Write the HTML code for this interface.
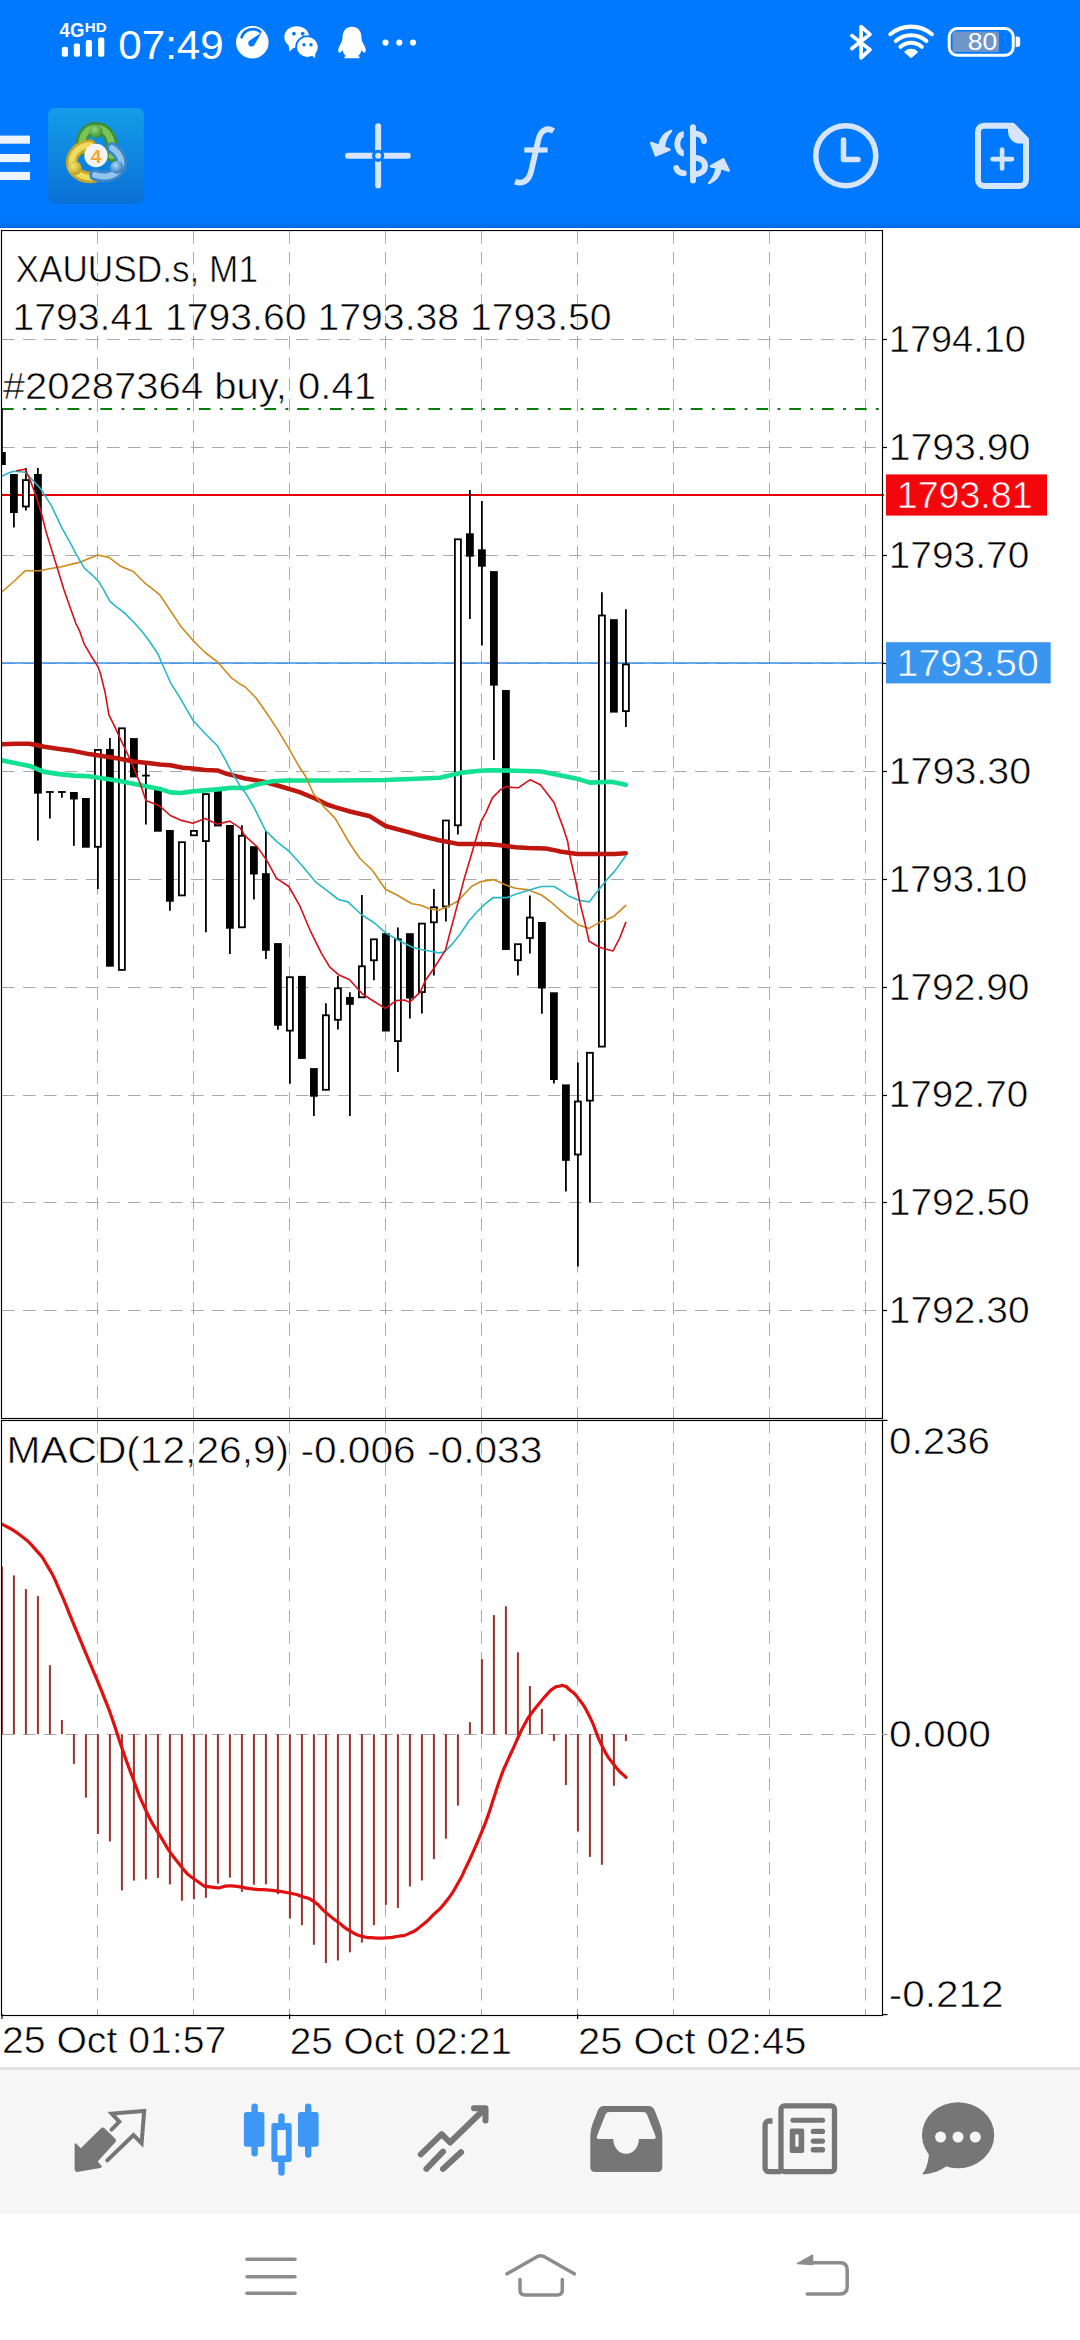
<!DOCTYPE html>
<html><head><meta charset="utf-8"><title>XAUUSD.s, M1</title>
<style>
html,body{margin:0;padding:0;background:#fff;}
body{width:1080px;height:2340px;position:relative;overflow:hidden;font-family:'Liberation Sans',Arial,sans-serif;}
svg text{white-space:pre;}
</style></head><body>
<div style="position:absolute;left:0;top:0;width:1080px;height:228px;background:#0179fe"></div>
<div style="position:absolute;left:0;top:222px;width:1080px;height:6px;background:linear-gradient(#0179fe,#0067dc)"></div>
<svg width="1080" height="228" style="position:absolute;left:0;top:0"><text x="59.62" y="36.7" font-family="'Liberation Sans', Arial, sans-serif" font-weight="bold" font-size="20" fill="#fff" textLength="24.73" lengthAdjust="spacingAndGlyphs">4G</text><text x="84.79" y="31.9" font-family="'Liberation Sans', Arial, sans-serif" font-weight="bold" font-size="13.6" fill="#fff" textLength="21.74" lengthAdjust="spacingAndGlyphs">HD</text><rect x="61.8" y="46.8" width="6.2" height="10" rx="2" fill="#fff"/><rect x="73.8" y="43.5" width="6.2" height="13.3" rx="2" fill="#fff"/><rect x="85.8" y="40" width="6.2" height="16.8" rx="2" fill="#fff"/><rect x="98.1" y="37.4" width="6.2" height="19.4" rx="2" fill="#fff"/><text x="118.36" y="58.9" font-family="'Liberation Sans', Arial, sans-serif" font-size="41" fill="#fff" textLength="105.34" lengthAdjust="spacingAndGlyphs">07:49</text><circle cx="252.3" cy="42.2" r="16.3" fill="#fff"/><path d="M241.6 37.2 A12 12 0 0 1 260.2 31.6" fill="none" stroke="#0179fe" stroke-width="2.8" stroke-linecap="round"/><path d="M249.6 40.6 L261.6 32.6 L254.2 45.2 A3.3 3.3 0 1 1 249.6 40.6 Z" fill="#0179fe"/><ellipse cx="296.7" cy="37" rx="12.4" ry="10.8" fill="#fff"/><path d="M288.5 44 L289.5 51.5 L295 46.5 Z" fill="#fff"/><circle cx="293.9" cy="33.7" r="1.9" fill="#0179fe"/><circle cx="302.7" cy="33.7" r="1.9" fill="#0179fe"/><ellipse cx="307.4" cy="47" rx="12.2" ry="11.8" fill="#0179fe"/><ellipse cx="307.4" cy="47" rx="10.4" ry="10" fill="#fff"/><path d="M311 55 L315 58 L315.5 52 Z" fill="#fff"/><circle cx="304" cy="44.8" r="1.7" fill="#0179fe"/><circle cx="311" cy="44.8" r="1.7" fill="#0179fe"/><path d="M352 26.7 C345 26.7 342.5 32 342.5 38 C342.5 41 341 43 339.5 46 C337.5 50 338 53 340 52.5 C341 52 341.8 51 342.5 50 C343 53 344.5 55 346 56 C343.5 57 343.5 58.3 346 58.3 L358 58.3 C360.5 58.3 360.5 57 358 56 C359.5 55 361 53 361.5 50 C362.2 51 363 52 364 52.5 C366 53 366.5 50 364.5 46 C363 43 361.5 41 361.5 38 C361.5 32 359 26.7 352 26.7 Z" fill="#fff"/><circle cx="385.5" cy="42.6" r="3.1" fill="#fff"/><circle cx="399.3" cy="42.6" r="3.1" fill="#fff"/><circle cx="413" cy="42.6" r="3.1" fill="#fff"/><path d="M851.9 35.6 L870 49.6 L861.1 57.8 L861.1 26.7 L870 34.4 L851.9 48.5" fill="none" stroke="#fff" stroke-width="3.7" stroke-linejoin="round" stroke-linecap="round"/><g fill="none" stroke="#fff" stroke-width="4.1" stroke-linecap="round"><path d="M890.3 34.2 A32.2 32.2 0 0 1 931.9 34.2"/><path d="M895.8 41 A23.4 23.4 0 0 1 926.4 41"/><path d="M900.5 46.8 A15.8 15.8 0 0 1 921.7 46.8"/></g><path d="M911.1 57 L905.4 51.9 A8.6 8.6 0 0 1 916.8 51.9 Z" fill="#fff" stroke="#fff" stroke-width="2" stroke-linejoin="round"/><rect x="949.2" y="28.6" width="64" height="26.6" rx="8" fill="none" stroke="#fff" stroke-width="3"/><rect x="952.5" y="31.5" width="46.5" height="20.5" rx="1" fill="#6f96c9"/><path d="M1015.7 36.4 L1017 36.4 A3 3 0 0 1 1020.2 39.4 L1020.2 44.1 A3 3 0 0 1 1017 47.1 L1015.7 47.1 Z" fill="#fff"/><text x="967.7" y="50" font-family="'Liberation Sans', Arial, sans-serif" font-size="23" fill="#fff" textLength="29.5" lengthAdjust="spacingAndGlyphs">80</text><rect x="0" y="135.6" width="30" height="8.1" fill="#eef4fe"/><rect x="0" y="154" width="30" height="8.1" fill="#eef4fe"/><rect x="0" y="171.9" width="30" height="8.1" fill="#eef4fe"/><defs><linearGradient id="lg" x1="0" y1="0" x2="0" y2="1"><stop offset="0" stop-color="#149de9"/><stop offset="1" stop-color="#0a70d6"/></linearGradient><radialGradient id="hg" cx="0.4" cy="0.35" r="0.7"><stop offset="0" stop-color="#9ad77a"/><stop offset="1" stop-color="#2f8a30"/></radialGradient><radialGradient id="hy" cx="0.4" cy="0.35" r="0.7"><stop offset="0" stop-color="#f4e678"/><stop offset="1" stop-color="#b99a1c"/></radialGradient><radialGradient id="hb" cx="0.4" cy="0.35" r="0.7"><stop offset="0" stop-color="#a8d8f6"/><stop offset="1" stop-color="#2a74b8"/></radialGradient></defs><rect x="48.1" y="108.1" width="95.8" height="95.8" rx="7" fill="url(#lg)"/><g fill="none" stroke-linecap="round"><path d="M83 150 C79 138 86 128 96 128 C106 128 114 137 112 156" stroke="#3c8f36" stroke-width="12"/><path d="M83 150 C79 138 86 128 96 128 C106 128 114 137 112 156" stroke="#7cc35a" stroke-width="6.5"/><path d="M90 145 C78 146 70 155 72 166 C75 175 86 179 95 177" stroke="#c6a72a" stroke-width="11.5"/><path d="M90 145 C78 146 70 155 72 166 C75 175 86 179 95 177" stroke="#eedc60" stroke-width="6"/><path d="M112 148 C121 154 124 163 119 170 C113 177 103 178 95 175" stroke="#3a86c8" stroke-width="11.5"/><path d="M112 148 C121 154 124 163 119 170 C113 177 103 178 95 175" stroke="#90c6ee" stroke-width="6"/></g><circle cx="96" cy="131.6" r="6.6" fill="url(#hg)"/><circle cx="74.6" cy="168.2" r="7" fill="url(#hy)"/><circle cx="116.9" cy="167.2" r="6.5" fill="url(#hb)"/><circle cx="96" cy="155.5" r="11.7" fill="#f3f3f3"/><text x="96" y="162.5" text-anchor="middle" font-family="'Liberation Sans', Arial, sans-serif" font-weight="bold" font-size="19" fill="#f2a634">4</text><g stroke="#d6e5fb" stroke-width="6" stroke-linecap="round" fill="none"><line x1="348" y1="155.8" x2="407.8" y2="155.8"/><line x1="378.1" y1="126.2" x2="378.1" y2="185.4"/></g><circle cx="378.1" cy="155.8" r="6.1" fill="#0179fe"/><circle cx="378.1" cy="155.8" r="3" fill="#d6e5fb"/><path d="M553.5 131 C547 127 540.5 130 538.3 140 L531.3 170.5 C529 180.5 523.5 184.5 515 181.8" fill="none" stroke="#d6e5fb" stroke-width="5.8"/><line x1="524.3" y1="150" x2="547.6" y2="150" stroke="#d6e5fb" stroke-width="5.2"/><line x1="693" y1="127.3" x2="693" y2="180.4" stroke="#d6e5fb" stroke-width="6" stroke-linecap="round"/><g fill="none" stroke="#d6e5fb" stroke-width="6"><path d="M683.8 134.3 A6.5 9.5 0 0 0 683.8 153.3"/><path d="M693 133.6 C699 133.6 704 136 704 141" stroke-linecap="round"/><path d="M693 157.8 C701 157.8 705 161.5 705 166 C705 170.5 701 174.3 693 174.3"/><path d="M676.3 168 C677.5 171.5 680 173.3 683.8 173.3" stroke-linecap="round"/></g><path d="M671 131 C664 134 660 139 659.5 146 L651.3 143 L655.8 155.3 L669.6 149.7 L663.8 147.5 C664.5 140 667 135 671 131 Z" fill="#d6e5fb" stroke="#d6e5fb" stroke-width="2.5" stroke-linejoin="round"/><path d="M709.2 183 C716 180 720 175 720.5 168 L728.7 170.5 L723.3 159.3 L710.8 166.3 L716.6 167.6 C716 174 713 179 709.2 183 Z" fill="#d6e5fb" stroke="#d6e5fb" stroke-width="2.5" stroke-linejoin="round"/><circle cx="845.8" cy="155.7" r="30" fill="none" stroke="#d6e5fb" stroke-width="5.5"/><path d="M843.5 140 L843.5 159.5 L858 159.5" fill="none" stroke="#d6e5fb" stroke-width="5.5" stroke-linecap="round" stroke-linejoin="round"/><path d="M984 125.7 L1012.5 125.7 L1026 139.5 L1026 180 A6 6 0 0 1 1020 186 L984 186 A6 6 0 0 1 978 180 L978 131.7 A6 6 0 0 1 984 125.7 Z" fill="none" stroke="#d6e5fb" stroke-width="6" stroke-linejoin="round"/><path d="M1008 125 L1015 125 L1029 139 L1029 143.6 L1020 143.6 C1013 143.6 1008 138 1008 131 Z" fill="#d6e5fb"/><g stroke="#d6e5fb" stroke-width="4.6" stroke-linecap="round"><line x1="992.5" y1="159.1" x2="1012" y2="159.1"/><line x1="1002.1" y1="149.5" x2="1002.1" y2="168.5"/></g></svg>
<svg width="1080" height="1850" viewBox="0 230 1080 1850" style="position:absolute;left:0;top:230px">
<rect x="0" y="230" width="1080" height="1850" fill="#fff"/>
<defs><clipPath id="cm"><rect x="2" y="231" width="880" height="1187"/></clipPath><clipPath id="cd"><rect x="2" y="1421" width="880" height="594"/></clipPath></defs>
<g stroke="#aaaaaa" stroke-width="1" stroke-dasharray="12.6 8.4"><line x1="97.5" y1="231" x2="97.5" y2="1418" /><line x1="97.5" y1="1421" x2="97.5" y2="2015" /><line x1="193.5" y1="231" x2="193.5" y2="1418" /><line x1="193.5" y1="1421" x2="193.5" y2="2015" /><line x1="289.5" y1="231" x2="289.5" y2="1418" /><line x1="289.5" y1="1421" x2="289.5" y2="2015" /><line x1="385.5" y1="231" x2="385.5" y2="1418" /><line x1="385.5" y1="1421" x2="385.5" y2="2015" /><line x1="481.5" y1="231" x2="481.5" y2="1418" /><line x1="481.5" y1="1421" x2="481.5" y2="2015" /><line x1="577.5" y1="231" x2="577.5" y2="1418" /><line x1="577.5" y1="1421" x2="577.5" y2="2015" /><line x1="673.5" y1="231" x2="673.5" y2="1418" /><line x1="673.5" y1="1421" x2="673.5" y2="2015" /><line x1="769.5" y1="231" x2="769.5" y2="1418" /><line x1="769.5" y1="1421" x2="769.5" y2="2015" /><line x1="865.5" y1="231" x2="865.5" y2="1418" /><line x1="865.5" y1="1421" x2="865.5" y2="2015" /><line x1="2" y1="339.5" x2="882" y2="339.5" /><line x1="2" y1="447.5" x2="882" y2="447.5" /><line x1="2" y1="555.5" x2="882" y2="555.5" /><line x1="2" y1="663.5" x2="882" y2="663.5" /><line x1="2" y1="771.5" x2="882" y2="771.5" /><line x1="2" y1="879.5" x2="882" y2="879.5" /><line x1="2" y1="987.5" x2="882" y2="987.5" /><line x1="2" y1="1095.5" x2="882" y2="1095.5" /><line x1="2" y1="1202.5" x2="882" y2="1202.5" /><line x1="2" y1="1310.5" x2="882" y2="1310.5" /><line x1="2" y1="1734.5" x2="882" y2="1734.5" /></g>
<line x1="2" y1="409" x2="882" y2="409" stroke="#0a7a0a" stroke-width="2" stroke-dasharray="11.7 9.4 2.8 8.9"/>
<line x1="2" y1="495" x2="884" y2="495" stroke="#e40000" stroke-width="1.8"/>
<line x1="2" y1="663" x2="884" y2="663" stroke="#3a8ee6" stroke-width="1.6"/>
<g clip-path="url(#cm)">
<line x1="1.9" y1="409" x2="1.9" y2="453" stroke="#000" stroke-width="1.8"/><rect x="-2" y="452" width="7.8" height="13" fill="#000"/><line x1="13.9" y1="512" x2="13.9" y2="527.6" stroke="#000" stroke-width="1.8"/><rect x="10" y="474" width="7.8" height="39" fill="#000"/><line x1="25.9" y1="468" x2="25.9" y2="480.2" stroke="#000" stroke-width="1.8"/><line x1="25.9" y1="506.4" x2="25.9" y2="510.5" stroke="#000" stroke-width="1.8"/><rect x="22.9" y="480.1" width="6" height="26.4" fill="#fff" stroke="#000" stroke-width="1.8"/><line x1="37.9" y1="468" x2="37.9" y2="475" stroke="#000" stroke-width="1.8"/><line x1="37.9" y1="792.6" x2="37.9" y2="840.6" stroke="#000" stroke-width="1.8"/><rect x="34" y="474" width="7.8" height="319.6" fill="#000"/><line x1="49.9" y1="791" x2="49.9" y2="818.6" stroke="#000" stroke-width="1.8"/><line x1="46" y1="792" x2="53.8" y2="792" stroke="#000" stroke-width="1.8"/><line x1="61.9" y1="791" x2="61.9" y2="797.7" stroke="#000" stroke-width="1.8"/><line x1="58" y1="792" x2="65.8" y2="792" stroke="#000" stroke-width="1.8"/><line x1="73.9" y1="798.5" x2="73.9" y2="845.8" stroke="#000" stroke-width="1.8"/><rect x="70" y="792" width="7.8" height="7.5" fill="#000"/><rect x="82" y="798" width="7.8" height="49.7" fill="#000"/><line x1="97.9" y1="846.7" x2="97.9" y2="889" stroke="#000" stroke-width="1.8"/><rect x="94.9" y="749.9" width="6" height="96.9" fill="#fff" stroke="#000" stroke-width="1.8"/><line x1="109.9" y1="738" x2="109.9" y2="750" stroke="#000" stroke-width="1.8"/><rect x="106" y="749" width="7.8" height="217.7" fill="#000"/><rect x="118.9" y="728.3" width="6" height="241.6" fill="#fff" stroke="#000" stroke-width="1.8"/><rect x="130" y="738.1" width="7.8" height="39.3" fill="#000"/><line x1="145.9" y1="764.5" x2="145.9" y2="776.6" stroke="#000" stroke-width="1.8"/><line x1="145.9" y1="774.6" x2="145.9" y2="824.6" stroke="#000" stroke-width="1.8"/><line x1="142" y1="775.6" x2="149.8" y2="775.6" stroke="#000" stroke-width="1.8"/><rect x="154" y="787" width="7.8" height="44.7" fill="#000"/><line x1="169.9" y1="900.7" x2="169.9" y2="910.7" stroke="#000" stroke-width="1.8"/><rect x="166" y="830" width="7.8" height="71.7" fill="#000"/><rect x="178.9" y="842.2" width="6" height="53.2" fill="#fff" stroke="#000" stroke-width="1.8"/><rect x="190.9" y="830.9" width="6" height="4.4" fill="#fff" stroke="#000" stroke-width="1.8"/><line x1="205.9" y1="841" x2="205.9" y2="932.2" stroke="#000" stroke-width="1.8"/><rect x="202.9" y="794.1" width="6" height="47" fill="#fff" stroke="#000" stroke-width="1.8"/><rect x="214" y="787.8" width="7.8" height="38.6" fill="#000"/><line x1="229.9" y1="927.7" x2="229.9" y2="953.9" stroke="#000" stroke-width="1.8"/><rect x="226" y="825" width="7.8" height="103.7" fill="#000"/><line x1="241.9" y1="825.2" x2="241.9" y2="835.9" stroke="#000" stroke-width="1.8"/><rect x="238.9" y="835.8" width="6" height="91.5" fill="#fff" stroke="#000" stroke-width="1.8"/><line x1="253.9" y1="873.5" x2="253.9" y2="899.5" stroke="#000" stroke-width="1.8"/><rect x="250" y="846.2" width="7.8" height="28.3" fill="#000"/><line x1="265.9" y1="830.8" x2="265.9" y2="874.2" stroke="#000" stroke-width="1.8"/><line x1="265.9" y1="949.8" x2="265.9" y2="959" stroke="#000" stroke-width="1.8"/><rect x="262" y="873.2" width="7.8" height="77.6" fill="#000"/><line x1="277.9" y1="1024.7" x2="277.9" y2="1029.8" stroke="#000" stroke-width="1.8"/><rect x="274" y="943.1" width="7.8" height="82.6" fill="#000"/><line x1="289.9" y1="1030.5" x2="289.9" y2="1083.7" stroke="#000" stroke-width="1.8"/><rect x="286.9" y="977.2" width="6" height="53.4" fill="#fff" stroke="#000" stroke-width="1.8"/><rect x="298" y="975.9" width="7.8" height="83" fill="#000"/><line x1="313.9" y1="1095.7" x2="313.9" y2="1115.9" stroke="#000" stroke-width="1.8"/><rect x="310" y="1068.1" width="7.8" height="28.6" fill="#000"/><line x1="325.9" y1="1003.2" x2="325.9" y2="1015.4" stroke="#000" stroke-width="1.8"/><rect x="322.9" y="1015.3" width="6" height="74.5" fill="#fff" stroke="#000" stroke-width="1.8"/><line x1="337.9" y1="976.1" x2="337.9" y2="988.4" stroke="#000" stroke-width="1.8"/><line x1="337.9" y1="1019.7" x2="337.9" y2="1029.6" stroke="#000" stroke-width="1.8"/><rect x="334.9" y="988.3" width="6" height="31.5" fill="#fff" stroke="#000" stroke-width="1.8"/><line x1="349.9" y1="992.2" x2="349.9" y2="998" stroke="#000" stroke-width="1.8"/><line x1="349.9" y1="1003.8" x2="349.9" y2="1115.9" stroke="#000" stroke-width="1.8"/><rect x="346" y="997" width="7.8" height="7.8" fill="#000"/><line x1="361.9" y1="895" x2="361.9" y2="966.4" stroke="#000" stroke-width="1.8"/><rect x="358.9" y="966.3" width="6" height="31" fill="#fff" stroke="#000" stroke-width="1.8"/><line x1="373.9" y1="960.2" x2="373.9" y2="980.3" stroke="#000" stroke-width="1.8"/><rect x="370.9" y="939.3" width="6" height="21" fill="#fff" stroke="#000" stroke-width="1.8"/><rect x="382" y="933.2" width="7.8" height="98.3" fill="#000"/><line x1="397.9" y1="927.6" x2="397.9" y2="939.4" stroke="#000" stroke-width="1.8"/><line x1="397.9" y1="1041" x2="397.9" y2="1072" stroke="#000" stroke-width="1.8"/><rect x="394.9" y="939.3" width="6" height="101.8" fill="#fff" stroke="#000" stroke-width="1.8"/><line x1="409.9" y1="997.5" x2="409.9" y2="1018.5" stroke="#000" stroke-width="1.8"/><rect x="406" y="933.2" width="7.8" height="65.3" fill="#000"/><line x1="421.9" y1="992" x2="421.9" y2="1013.6" stroke="#000" stroke-width="1.8"/><rect x="418.9" y="923.6" width="6" height="68.5" fill="#fff" stroke="#000" stroke-width="1.8"/><line x1="433.9" y1="889" x2="433.9" y2="907.4" stroke="#000" stroke-width="1.8"/><line x1="433.9" y1="922.2" x2="433.9" y2="975.5" stroke="#000" stroke-width="1.8"/><rect x="430.9" y="907.3" width="6" height="15" fill="#fff" stroke="#000" stroke-width="1.8"/><line x1="445.9" y1="906.4" x2="445.9" y2="921.5" stroke="#000" stroke-width="1.8"/><rect x="442.9" y="820.5" width="6" height="86" fill="#fff" stroke="#000" stroke-width="1.8"/><line x1="457.9" y1="825.2" x2="457.9" y2="834.4" stroke="#000" stroke-width="1.8"/><rect x="454.9" y="539.3" width="6" height="286" fill="#fff" stroke="#000" stroke-width="1.8"/><line x1="469.9" y1="490" x2="469.9" y2="534.3" stroke="#000" stroke-width="1.8"/><line x1="469.9" y1="555.7" x2="469.9" y2="618.9" stroke="#000" stroke-width="1.8"/><rect x="466" y="533.3" width="7.8" height="23.4" fill="#000"/><line x1="481.9" y1="501.1" x2="481.9" y2="550.3" stroke="#000" stroke-width="1.8"/><line x1="481.9" y1="565.7" x2="481.9" y2="645.6" stroke="#000" stroke-width="1.8"/><rect x="478" y="549.3" width="7.8" height="17.4" fill="#000"/><line x1="493.9" y1="684.6" x2="493.9" y2="760" stroke="#000" stroke-width="1.8"/><rect x="490" y="571.1" width="7.8" height="114.5" fill="#000"/><rect x="502" y="690" width="7.8" height="260" fill="#000"/><line x1="517.9" y1="960.1" x2="517.9" y2="975.6" stroke="#000" stroke-width="1.8"/><rect x="514.9" y="944.2" width="6" height="16" fill="#fff" stroke="#000" stroke-width="1.8"/><line x1="529.9" y1="895.6" x2="529.9" y2="917.7" stroke="#000" stroke-width="1.8"/><line x1="529.9" y1="937.9" x2="529.9" y2="953.5" stroke="#000" stroke-width="1.8"/><rect x="526.9" y="917.6" width="6" height="20.4" fill="#fff" stroke="#000" stroke-width="1.8"/><line x1="541.9" y1="987.5" x2="541.9" y2="1013.7" stroke="#000" stroke-width="1.8"/><rect x="538" y="922" width="7.8" height="66.5" fill="#000"/><line x1="553.9" y1="1079" x2="553.9" y2="1083.6" stroke="#000" stroke-width="1.8"/><rect x="550" y="992.3" width="7.8" height="87.7" fill="#000"/><line x1="565.9" y1="1159.8" x2="565.9" y2="1191.6" stroke="#000" stroke-width="1.8"/><rect x="562" y="1084.4" width="7.8" height="76.4" fill="#000"/><line x1="577.9" y1="1062.5" x2="577.9" y2="1101.6" stroke="#000" stroke-width="1.8"/><line x1="577.9" y1="1154.4" x2="577.9" y2="1266.4" stroke="#000" stroke-width="1.8"/><rect x="574.9" y="1101.5" width="6" height="53" fill="#fff" stroke="#000" stroke-width="1.8"/><line x1="589.9" y1="1100.5" x2="589.9" y2="1202.5" stroke="#000" stroke-width="1.8"/><rect x="586.9" y="1052.8" width="6" height="47.8" fill="#fff" stroke="#000" stroke-width="1.8"/><line x1="601.9" y1="592.3" x2="601.9" y2="615.6" stroke="#000" stroke-width="1.8"/><rect x="598.9" y="615.5" width="6" height="431.1" fill="#fff" stroke="#000" stroke-width="1.8"/><rect x="610" y="619.2" width="7.8" height="93.4" fill="#000"/><line x1="625.9" y1="609.2" x2="625.9" y2="664.5" stroke="#000" stroke-width="1.8"/><line x1="625.9" y1="711" x2="625.9" y2="727" stroke="#000" stroke-width="1.8"/><rect x="622.9" y="664.4" width="6" height="46.7" fill="#fff" stroke="#000" stroke-width="1.8"/>
<g fill="none" stroke-linejoin="round" stroke-linecap="round">
<polyline points="0,744.4 14.8,743.7 29.6,743.7 44.4,746.7 59.3,748.9 74.1,751.1 88.9,754.1 103.7,756.3 118.5,758.5 133.3,761.5 148.1,763 160,764.6 170.3,765.3 182.6,767.8 192.8,768.4 205.1,769.9 217.4,770.4 225.6,773.5 237.9,776.6 245,778.5 261.4,781.2 279.2,786 299.7,792.2 316.1,799 327.1,804.5 335,807.2 350,811.5 370,816.3 385.5,826 410,832.6 420,835.5 438.8,840.2 448.2,842 457.6,843.9 476.4,843.9 490,844.3 502.8,845.5 515.6,847.2 528.5,848 545.6,848.5 556.7,850.6 560,851.5 577.1,854 614.7,854 625.8,853.2" stroke="#bd170f" stroke-width="4.5"/>
<polyline points="0,760 14.8,763 29.6,765.9 38.5,769.6 44.4,771.9 59.3,774.1 74.1,775.6 88.9,776.3 103.7,778.5 118.5,780.7 133.3,783.7 148.1,786.7 160,788.9 170.3,792.4 180.5,793 192.8,791.4 205.1,790.4 217.4,789.4 231.8,787.8 245,788.1 258.7,784 272.4,781.2 286,780.5 335,780.5 385,780 410,779 440,777.8 460,772.9 480,770.7 490,770.3 515.6,770.7 541.3,771.5 558.4,775 577.1,778.8 589.9,782.6 611.3,781.8 625.8,784.8" stroke="#12e092" stroke-width="4.6"/>
<polyline points="0,593.5 13.3,582 25.1,570.8 40,570.8 49.2,568.7 61.5,566.7 71.8,564.1 80.6,562.1 87.2,559.3 97.6,555 108.9,557.4 120.1,565.9 133.3,571.5 144.6,582.8 154.9,590.8 160,595.1 170.3,610.5 180.5,625.9 192.8,640.2 205.1,652.5 217.4,661.8 231.8,678.2 242,685.3 245,686.8 255.9,697.8 265.5,711.5 276.5,727.9 288.8,748.4 299.7,767.5 305.2,775.7 313.4,793.5 324.3,807.2 335,818.1 350,844 360,858.5 372.1,870 385.4,889.3 397.4,895.3 411.8,903.7 420,905 429.4,908.8 438.8,910.2 448.2,906.4 457.6,901.2 471.7,886.2 481.1,881.5 493.3,879.6 507.1,885.6 515.6,888.2 528.5,889.9 541.3,895 549.8,901 558.4,908.7 568.5,917.3 578.8,925 589.1,928.4 599.3,922.4 613.8,916.4 625.8,905.3" stroke="#cc8a1e" stroke-width="1.6"/>
<polyline points="0,476.9 10.3,472.3 14.4,471.3 25.1,472.3 30.8,478 41,489.2 51.3,505.6 61.5,527.2 71.8,545.6 75,552.2 84.4,568.2 91.9,574.8 98.5,581.4 103.2,588.9 109.8,601.1 116.4,606.8 123.9,612.4 133.3,621.8 142.7,632.2 150.2,642.5 157.8,653.8 161.5,662.3 170.3,682.3 180.5,698.7 192.8,720.2 205.1,733.5 217.4,745.8 225.6,760.2 231.8,772.5 242,788.9 245,792.2 253.2,805.8 258.7,816.8 265.5,830.5 276.5,841.4 288.8,851 302.4,866 316.1,882.4 327.1,890.6 338.4,899.5 348,901.9 361.3,914.5 374.5,923 385.4,932.6 397.4,939.8 411.8,947 420,949.2 429.4,951 438.8,952.9 444.4,952 451,945.4 459.5,935.1 468.9,921 476.4,912.5 484.8,904.1 493.3,897.5 507.1,897.6 515.6,894.2 528.5,890.3 541.3,886.5 554.1,886.5 562.6,891.6 568.5,895.9 578.8,900.2 589.1,901.9 598.5,889.9 606.2,880.5 614.7,871.1 625.8,855.7" stroke="#27b8c6" stroke-width="1.6"/>
<polyline points="16.9,470.6 25.1,469.2 29.7,479 35.9,495.4 41,511.8 46.2,532.3 51.3,548.7 57.4,568.2 63.6,588.7 69.7,606.2 75.9,623.6 79.7,631.2 84.4,644.4 91,655.7 97.6,666 100.4,673.5 105.1,692.4 108.9,714.9 114.5,726.2 120.1,738.4 127.7,754.4 131.5,762.7 140.5,784.2 145.9,800.4 154.8,804 160,806.3 170.3,815.5 180.5,820.1 192.8,823.2 205.1,818.6 217.4,824.2 229.7,821.1 240,827.8 245,835.9 257.3,846.9 266.9,860.6 276.5,878.3 288.8,886.5 299.7,905.7 310.7,931.7 321.6,953.6 329.8,967.2 338.4,974.7 349.3,979.5 362.5,994 373.3,1001 385.4,1008.4 396.2,1000.6 404.6,1000 409.4,1002.4 420,992.4 425.6,980.2 434.1,968 445.4,950.1 450.1,932.3 457.6,904.1 464.2,878.7 469.8,859.9 474.5,843.9 481.1,821.4 485.8,812.9 492.4,797.9 500.3,789.9 506.2,786.5 511.4,787.4 518.2,787.8 530.2,779.7 540.4,784.8 546.4,792.5 554.1,802.7 558.4,814.7 563.5,828.4 567.8,842.1 570.3,858.3 575.4,879.7 580.5,905.3 584.8,922.4 589.1,941.2 599.3,947.2 613,951 619.8,937.8 625.8,922.4" stroke="#d6101a" stroke-width="1.6"/>
</g>
</g>
<g clip-path="url(#cd)">
<g stroke="#9a3329" stroke-width="2"><line x1="1.9" y1="1734.2" x2="1.9" y2="1566.5"/><line x1="13.9" y1="1734.2" x2="13.9" y2="1575.4"/><line x1="25.9" y1="1734.2" x2="25.9" y2="1589"/><line x1="37.9" y1="1734.2" x2="37.9" y2="1596.1"/><line x1="49.9" y1="1734.2" x2="49.9" y2="1665.2"/><line x1="61.9" y1="1734.2" x2="61.9" y2="1720"/><line x1="73.9" y1="1734.2" x2="73.9" y2="1763.9"/><line x1="85.9" y1="1734.2" x2="85.9" y2="1797.6"/><line x1="97.9" y1="1734.2" x2="97.9" y2="1834"/><line x1="109.9" y1="1734.2" x2="109.9" y2="1841.5"/><line x1="121.9" y1="1734.2" x2="121.9" y2="1890.4"/><line x1="133.9" y1="1734.2" x2="133.9" y2="1880.6"/><line x1="145.9" y1="1734.2" x2="145.9" y2="1879.4"/><line x1="157.9" y1="1734.2" x2="157.9" y2="1877.9"/><line x1="169.9" y1="1734.2" x2="169.9" y2="1884.4"/><line x1="181.9" y1="1734.2" x2="181.9" y2="1900.7"/><line x1="193.9" y1="1734.2" x2="193.9" y2="1899.3"/><line x1="205.9" y1="1734.2" x2="205.9" y2="1897.8"/><line x1="217.9" y1="1734.2" x2="217.9" y2="1883.6"/><line x1="229.9" y1="1734.2" x2="229.9" y2="1877.6"/><line x1="241.9" y1="1734.2" x2="241.9" y2="1891.9"/><line x1="253.9" y1="1734.2" x2="253.9" y2="1884.7"/><line x1="265.9" y1="1734.2" x2="265.9" y2="1884.4"/><line x1="277.9" y1="1734.2" x2="277.9" y2="1894.2"/><line x1="289.9" y1="1734.2" x2="289.9" y2="1918.5"/><line x1="301.9" y1="1734.2" x2="301.9" y2="1925.2"/><line x1="313.9" y1="1734.2" x2="313.9" y2="1944.8"/><line x1="325.9" y1="1734.2" x2="325.9" y2="1963"/><line x1="337.9" y1="1734.2" x2="337.9" y2="1960.5"/><line x1="349.9" y1="1734.2" x2="349.9" y2="1952.3"/><line x1="361.9" y1="1734.2" x2="361.9" y2="1942.6"/><line x1="373.9" y1="1734.2" x2="373.9" y2="1925.2"/><line x1="385.9" y1="1734.2" x2="385.9" y2="1904.8"/><line x1="397.9" y1="1734.2" x2="397.9" y2="1907.9"/><line x1="409.9" y1="1734.2" x2="409.9" y2="1886.5"/><line x1="421.9" y1="1734.2" x2="421.9" y2="1880.5"/><line x1="433.9" y1="1734.2" x2="433.9" y2="1859.1"/><line x1="445.9" y1="1734.2" x2="445.9" y2="1838.7"/><line x1="457.9" y1="1734.2" x2="457.9" y2="1805.6"/><line x1="469.9" y1="1734.2" x2="469.9" y2="1722.2"/><line x1="481.9" y1="1734.2" x2="481.9" y2="1659.2"/><line x1="493.9" y1="1734.2" x2="493.9" y2="1615.1"/><line x1="505.9" y1="1734.2" x2="505.9" y2="1606.2"/><line x1="517.9" y1="1734.2" x2="517.9" y2="1652.3"/><line x1="529.9" y1="1734.2" x2="529.9" y2="1686"/><line x1="541.9" y1="1734.2" x2="541.9" y2="1708.9"/><line x1="553.9" y1="1734.2" x2="553.9" y2="1741"/><line x1="565.9" y1="1734.2" x2="565.9" y2="1785.1"/><line x1="577.9" y1="1734.2" x2="577.9" y2="1831.4"/><line x1="589.9" y1="1734.2" x2="589.9" y2="1856.9"/><line x1="601.9" y1="1734.2" x2="601.9" y2="1864.8"/><line x1="613.9" y1="1734.2" x2="613.9" y2="1785.8"/><line x1="625.9" y1="1734.2" x2="625.9" y2="1741"/></g>
<path d="M2.4,1524.4 C8.3,1527.9 8.9,1526.6 20,1535 C31.1,1543.4 26.5,1539.3 35.6,1549.6 C44.7,1559.9 39.5,1552.6 47.4,1565.9 C55.3,1579.2 50.4,1569.8 59.3,1589.6 C68.2,1609.4 64.2,1601.5 74.1,1625.2 C84,1648.9 79,1637 88.9,1660.7 C98.8,1684.4 95.8,1676.5 103.7,1696.3 C111.6,1716.1 106.7,1703.2 112.6,1720 C118.5,1736.8 114.6,1726.9 121.5,1746.7 C128.4,1766.5 125.4,1758.6 133.3,1779.3 C141.2,1800 136.3,1790.1 145.2,1808.9 C154.1,1827.7 149.1,1817.8 160,1835.6 C170.9,1853.4 165.9,1847.4 177.8,1862.2 C189.7,1877 183.8,1871.6 195.6,1880 C207.4,1888.4 201.5,1885.4 213.3,1887.4 C225.1,1889.4 218.2,1885.4 231.1,1885.9 C244,1886.4 238.1,1887.4 251.9,1888.9 C265.7,1890.4 259.8,1888.9 272.6,1890.4 C285.4,1891.9 280.6,1891.3 290.4,1893.3 C300.2,1895.3 294.1,1893.7 302,1896.5 C309.9,1899.3 306,1896.2 314,1901.6 C322,1907 318,1905.8 326,1912.6 C334,1919.4 330,1916 338,1922.1 C346,1928.2 342,1926.2 350,1930.9 C358,1935.6 354,1934 362,1936.3 C370,1938.6 366,1937.3 374,1937.8 C382,1938.3 378,1938.3 386,1937.8 C394,1937.3 390,1937.9 398,1936.3 C406,1934.7 402,1936.8 410,1933.1 C418,1929.4 414,1931.5 422,1925.2 C430,1918.9 426,1922.1 434,1914.2 C442,1906.3 438,1912 446,1901.6 C454,1891.2 451.5,1894.4 458.1,1883 C464.7,1871.6 460.7,1878.2 465.9,1867.4 C471.1,1856.6 468.5,1862.3 473.7,1850.6 C478.9,1838.9 476.7,1844.1 481.5,1832.4 C486.3,1820.7 483.7,1827.7 488,1815.6 C492.3,1803.5 490.1,1809.1 494.4,1796.1 C498.7,1783.1 496.6,1788.4 500.9,1776.7 C505.2,1765 503.1,1771 507.4,1761.1 C511.7,1751.2 510,1755.5 513.9,1746.9 C517.8,1738.3 515.6,1742.6 519.1,1735.2 C522.6,1727.8 520.4,1731.7 524.3,1724.8 C528.2,1717.9 525.5,1721.7 530.7,1714.4 C535.9,1707.1 534.2,1709.7 539.8,1702.8 C545.4,1695.9 542.8,1698.7 547.6,1693.7 C552.4,1688.7 550.3,1690.4 554.1,1687.9 C557.9,1685.4 555.6,1687 559,1686.3 C562.4,1685.6 560.9,1684.7 564.4,1685.9 C567.9,1687.1 564.8,1685.5 569.6,1689.8 C574.4,1694.1 571.9,1689.7 578.7,1698.9 C585.5,1708.1 582.2,1701.8 590,1717.4 C597.8,1733 594,1730 602,1745.8 C610,1761.6 606,1754.2 614,1764.7 C622,1775.2 622,1773.1 626,1777.3" fill="none" stroke="#e01010" stroke-width="3.2" stroke-linejoin="round" stroke-linecap="round"/>
</g>
<g stroke="#000" stroke-width="1.15" fill="none">
<rect x="1.5" y="230.5" width="881" height="1188"/>
<rect x="1.5" y="1420.5" width="881" height="595"/>
</g>
<line x1="882" y1="339.5" x2="887" y2="339.5" stroke="#000" stroke-width="1.2"/><line x1="882" y1="447.5" x2="887" y2="447.5" stroke="#000" stroke-width="1.2"/><line x1="882" y1="555.5" x2="887" y2="555.5" stroke="#000" stroke-width="1.2"/><line x1="882" y1="663.5" x2="887" y2="663.5" stroke="#000" stroke-width="1.2"/><line x1="882" y1="771.5" x2="887" y2="771.5" stroke="#000" stroke-width="1.2"/><line x1="882" y1="879.5" x2="887" y2="879.5" stroke="#000" stroke-width="1.2"/><line x1="882" y1="987.5" x2="887" y2="987.5" stroke="#000" stroke-width="1.2"/><line x1="882" y1="1095.5" x2="887" y2="1095.5" stroke="#000" stroke-width="1.2"/><line x1="882" y1="1202.5" x2="887" y2="1202.5" stroke="#000" stroke-width="1.2"/><line x1="882" y1="1310.5" x2="887" y2="1310.5" stroke="#000" stroke-width="1.2"/><line x1="882" y1="1420.4" x2="887.5" y2="1420.4" stroke="#000" stroke-width="1.2"/><line x1="882" y1="1734.5" x2="887.5" y2="1734.5" stroke="#999" stroke-width="1.2"/><line x1="882" y1="2014.6" x2="887.5" y2="2014.6" stroke="#000" stroke-width="1.2"/><line x1="2" y1="2014" x2="2" y2="2019" stroke="#000" stroke-width="1.2"/><line x1="289.6" y1="2014" x2="289.6" y2="2019" stroke="#000" stroke-width="1.2"/><line x1="577.6" y1="2014" x2="577.6" y2="2019" stroke="#000" stroke-width="1.2"/>
<g font-family="'Liberation Sans', Arial, sans-serif"><text x="888.81" y="352.1" font-size="37.5" fill="#000" stroke="#fff" stroke-width="0.6" textLength="137.07" lengthAdjust="spacingAndGlyphs">1794.10</text><text x="888.71" y="460" font-size="37.5" fill="#000" stroke="#fff" stroke-width="0.6" textLength="141.72" lengthAdjust="spacingAndGlyphs">1793.90</text><text x="888.74" y="567.9" font-size="37.5" fill="#000" stroke="#fff" stroke-width="0.6" textLength="140.58" lengthAdjust="spacingAndGlyphs">1793.70</text><text x="888.70" y="783.7" font-size="37.5" fill="#000" stroke="#fff" stroke-width="0.6" textLength="142.44" lengthAdjust="spacingAndGlyphs">1793.30</text><text x="888.78" y="891.6" font-size="37.5" fill="#000" stroke="#fff" stroke-width="0.6" textLength="138.62" lengthAdjust="spacingAndGlyphs">1793.10</text><text x="888.73" y="999.5" font-size="37.5" fill="#000" stroke="#fff" stroke-width="0.6" textLength="140.79" lengthAdjust="spacingAndGlyphs">1792.90</text><text x="888.76" y="1107.4" font-size="37.5" fill="#000" stroke="#fff" stroke-width="0.6" textLength="139.45" lengthAdjust="spacingAndGlyphs">1792.70</text><text x="888.73" y="1215.3" font-size="37.5" fill="#000" stroke="#fff" stroke-width="0.6" textLength="140.89" lengthAdjust="spacingAndGlyphs">1792.50</text><text x="888.73" y="1323.2" font-size="37.5" fill="#000" stroke="#fff" stroke-width="0.6" textLength="140.89" lengthAdjust="spacingAndGlyphs">1792.30</text><rect x="886" y="474.4" width="161" height="41.2" fill="#f2070d"/><text x="896.74" y="507.8" font-size="37.5" fill="#fff" stroke="#f2070d" stroke-width="0.6" textLength="135.80" lengthAdjust="spacingAndGlyphs">1793.81</text><rect x="886" y="642.2" width="164.7" height="41.2" fill="#3a95ef"/><text x="896.60" y="675.8" font-size="37.5" fill="#fff" stroke="#3a95ef" stroke-width="0.6" textLength="142.23" lengthAdjust="spacingAndGlyphs">1793.50</text><text x="15.51" y="281.5" font-size="37.5" fill="#000" stroke="#fff" stroke-width="0.6" textLength="242.51" lengthAdjust="spacingAndGlyphs">XAUUSD.s, M1</text><text x="12.42" y="330" font-size="37.5" fill="#000" stroke="#fff" stroke-width="0.6" textLength="599.22" lengthAdjust="spacingAndGlyphs">1793.41 1793.60 1793.38 1793.50</text><text x="2.83" y="399.1" font-size="37.5" fill="#000" stroke="#fff" stroke-width="0.6" textLength="373.11" lengthAdjust="spacingAndGlyphs">#20287364 buy, 0.41</text><text x="6.56" y="1462.5" font-size="37.5" fill="#000" stroke="#fff" stroke-width="0.6" textLength="535.82" lengthAdjust="spacingAndGlyphs">MACD(12,26,9) -0.006 -0.033</text><text x="889.02" y="1454" font-size="37.5" fill="#000" stroke="#fff" stroke-width="0.6" textLength="101.05" lengthAdjust="spacingAndGlyphs">0.236</text><text x="889.01" y="1746.9" font-size="37.5" fill="#000" stroke="#fff" stroke-width="0.6" textLength="101.98" lengthAdjust="spacingAndGlyphs">0.000</text><text x="888.80" y="2006.9" font-size="37.5" fill="#000" stroke="#fff" stroke-width="0.6" textLength="114.84" lengthAdjust="spacingAndGlyphs">-0.212</text><text x="1.93" y="2053.3" font-size="37.5" fill="#000" stroke="#fff" stroke-width="0.6" textLength="224.34" lengthAdjust="spacingAndGlyphs">25 Oct 01:57</text><text x="289.65" y="2053.5" font-size="37.5" fill="#000" stroke="#fff" stroke-width="0.6" textLength="222.15" lengthAdjust="spacingAndGlyphs">25 Oct 02:21</text><text x="578.09" y="2053.5" font-size="37.5" fill="#000" stroke="#fff" stroke-width="0.6" textLength="228.28" lengthAdjust="spacingAndGlyphs">25 Oct 02:45</text></g>
</svg>
<div style="position:absolute;left:0;top:2067px;width:1080px;height:3px;background:#e2e2e2"></div>
<div style="position:absolute;left:0;top:2070px;width:1080px;height:144px;background:#f6f6f6"></div>
<svg width="1080" height="271" viewBox="0 2069 1080 271" style="position:absolute;left:0;top:2069px"><path d="M74.6 2144.5 Q74.6 2142.5 76.5 2144 L80.8 2148.3 L100.8 2128.6 Q102.8 2126.6 104.8 2128.6 L115 2138.6 Q117 2140.6 115 2142.6 L97.8 2161.6 L101.2 2165.5 Q102.6 2167.4 100.3 2167.9 L78.5 2171.8 Q74.6 2172.4 74.6 2168.5 Z" fill="#767676"/><path d="M111.5 2129.6 L119.3 2121.8 L111.8 2113.6 L144.2 2110.9 L141.6 2143.3 L133.5 2135 L107.3 2160.4" fill="none" stroke="#767676" stroke-width="4" stroke-linejoin="miter" stroke-linecap="round"/><g fill="#3d97f6"><rect x="243.9" y="2112" width="20.5" height="34.7" rx="2.5"/><rect x="251.4" y="2103.6" width="6.4" height="52.8" rx="3.2"/><rect x="298" y="2112" width="20.6" height="34.7" rx="2.5"/><rect x="305" y="2103.6" width="6.4" height="54.2" rx="3.2"/><rect x="278.3" y="2113.3" width="6.4" height="62.5" rx="3.2"/><rect x="271.4" y="2123" width="20.3" height="39" rx="2.5"/></g><rect x="277.3" y="2130" width="8.5" height="25.5" fill="#f6f6f6"/><g fill="none" stroke="#767676" stroke-width="6" stroke-linecap="round" stroke-linejoin="round"><polyline points="420.8,2154.4 441.7,2134.2 450,2142.5 484,2109.5"/><polyline points="474,2108.2 485.5,2108.2 485.5,2120.5"/><line x1="426.4" y1="2168.9" x2="443" y2="2151.7"/><line x1="443" y1="2168.9" x2="461" y2="2152.2"/></g><path d="M604 2106.1 L648.5 2106.1 Q652.5 2106.1 654.5 2110 L660 2124 Q662.3 2130 662.3 2136 L662.3 2167 Q662.3 2172 657.3 2172 L595.3 2172 Q590.3 2172 590.3 2167 L590.3 2136 Q590.3 2130 592.5 2124 L598 2110 Q600 2106.1 604 2106.1 Z" fill="#767676"/><path d="M609.5 2112.1 L643 2112.1 Q646 2112.1 647 2114.5 L655.5 2136 Q656.5 2139 653.5 2139 L638.8 2139 A12.75 14.8 0 0 1 613.3 2139 L599 2139 Q596 2139 597 2136 L605.5 2114.5 Q606.5 2112.1 609.5 2112.1 Z" fill="#f6f6f6"/><g fill="none" stroke="#767676" stroke-width="5.3"><rect x="781" y="2105.8" width="53.5" height="65.9" rx="3.5"/><path d="M772.5 2121 L769 2121 A4 4 0 0 0 765.1 2125 L765.1 2168 A3.7 3.7 0 0 0 768.8 2171.7 L781 2171.7"/></g><g fill="#767676"><rect x="790.4" y="2117.7" width="34.7" height="5" rx="2.5"/><rect x="810.7" y="2128.8" width="14.4" height="5.3" rx="2.6"/><rect x="810.7" y="2138.4" width="14.4" height="5.3" rx="2.6"/><rect x="810.7" y="2147.1" width="14.4" height="5.3" rx="2.6"/><rect x="789.7" y="2128.5" width="14.5" height="24.6" rx="2"/></g><rect x="795.3" y="2134.5" width="3.3" height="12.1" fill="#f6f6f6"/><ellipse cx="958.1" cy="2135.2" rx="36.1" ry="33" fill="#767676"/><path d="M929 2150 C929 2162 926 2170 922 2174.4 C933 2174 942 2170 948 2165 Z" fill="#767676"/><circle cx="940.6" cy="2137" r="5.5" fill="#f6f6f6"/><circle cx="958" cy="2137" r="5.5" fill="#f6f6f6"/><circle cx="975.3" cy="2137" r="5.5" fill="#f6f6f6"/><g stroke="#8c8c8c" stroke-width="3.5" stroke-linecap="round" fill="none" stroke-linejoin="round"><line x1="247" y1="2259.3" x2="295" y2="2259.3"/><line x1="247" y1="2276.7" x2="295" y2="2276.7"/><line x1="247" y1="2293.3" x2="295" y2="2293.3"/><path d="M507 2273.8 L537 2256.8 Q540.7 2254.8 544.4 2256.8 L574.3 2273.8"/><path d="M520 2279.5 L520 2290 Q520 2295 525 2295 L557.3 2295 Q562.3 2295 562.3 2290 L562.3 2279.5"/><path d="M808 2262.8 L840 2262.8 Q847.2 2262.8 847.2 2270 L847.2 2286.7 Q847.2 2293.9 840 2293.9 L807.2 2293.9"/></g><path d="M797.5 2263.6 L812.5 2255.2 L812.5 2264.5 Z" fill="#8c8c8c" stroke="#8c8c8c" stroke-width="1.5" stroke-linejoin="round"/></svg>
</body></html>
